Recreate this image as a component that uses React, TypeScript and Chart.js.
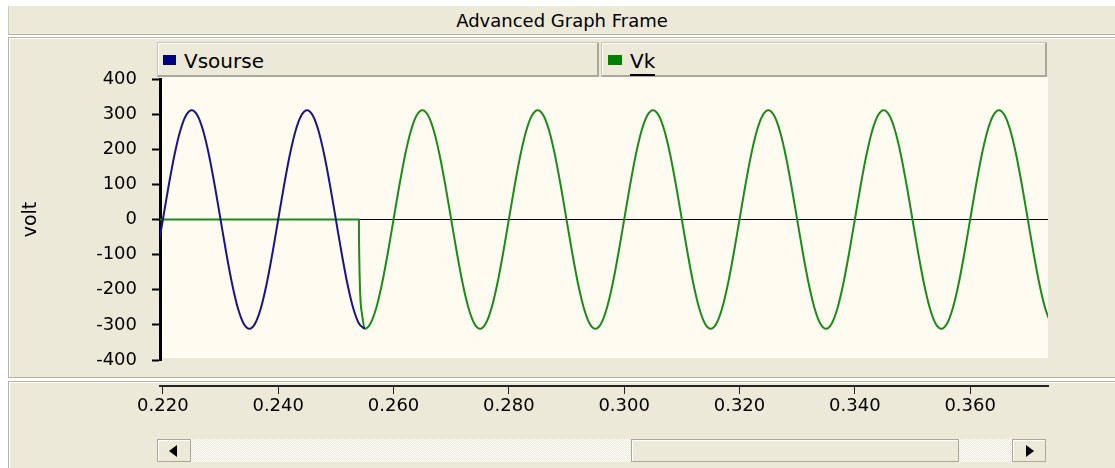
import React, { useEffect, useRef } from "react";
import { Chart, registerables } from "chart.js";

Chart.register(...registerables);

// ---- data (time grid: T_START + i * T_STEP seconds) ----
const T_START = 0.219;
const T_STEP = 0.001;

const seriesNames = ["Vsourse", "Vk"];

// Vsourse, 0.219 .. 0.255 s
const vsourseValues = [
  -96,
  0, 96, 183, 252, 296, 311, 296, 252, 183, 96,
  0, -96, -183, -252, -296, -311, -296, -252, -183, -96,
  0, 96, 183, 252, 296, 311, 296, 252, 183, 96,
  0, -96, -183, -252, -296, -311,
];

// Vk, 0.219 .. 0.374 s
const vkValues = [
  0, 0, 0, 0, 0, 0, 0, 0, 0, 0, 0, 0,
  0, 0, 0, 0, 0, 0, 0, 0, 0, 0, 0, 0,
  0, 0, 0, 0, 0, 0, 0, 0, 0, 0, 0, 0,
  -311, -296, -252, -183, -96,
  0, 96, 183, 252, 296, 311, 296, 252, 183, 96, 0, -96, -183, -252, -296, -311, -296, -252, -183, -96,
  0, 96, 183, 252, 296, 311, 296, 252, 183, 96, 0, -96, -183, -252, -296, -311, -296, -252, -183, -96,
  0, 96, 183, 252, 296, 311, 296, 252, 183, 96, 0, -96, -183, -252, -296, -311, -296, -252, -183, -96,
  0, 96, 183, 252, 296, 311, 296, 252, 183, 96, 0, -96, -183, -252, -296, -311, -296, -252, -183, -96,
  0, 96, 183, 252, 296, 311, 296, 252, 183, 96, 0, -96, -183, -252, -296, -311, -296, -252, -183, -96,
  0, 96, 183, 252, 296, 311, 296, 252, 183, 96, 0, -96, -183, -252, -296,
];

// switching transient of Vk (extra samples)
const vkSwitchTimes = [0.25401, 0.2545];
const vkSwitchValues = [-55, -265];

const xTickValues = [0.22, 0.24, 0.26, 0.28, 0.3, 0.32, 0.34, 0.36];
const X_MIN = 0.2195;
const X_MAX = 0.3735;
const Y_MIN = -400;
const Y_MAX = 400;
const Y_STEP = 100;

const lineColors = ["#16168a", "#1a8c1a"];
const legendColors = ["#000080", "#008000"];

const FONT = "'DejaVu Sans', Verdana, sans-serif";
const BEIGE = "#ECE9D8";

const tAt = (i: number) => Math.round((T_START + i * T_STEP) * 100000) / 100000;

const vsoursePoints = vsourseValues.map((y, i) => ({ x: tAt(i), y }));
const vkPoints = vkValues
  .map((y, i) => ({ x: tAt(i), y }))
  .concat(vkSwitchTimes.map((x, i) => ({ x, y: vkSwitchValues[i] })))
  .sort((a, b) => a.x - b.x);

const plotBg = {
  id: "plotBg",
  beforeDraw(chart: any) {
    const { ctx, chartArea } = chart;
    ctx.save();
    ctx.fillStyle = "#FFFBF0";
    ctx.fillRect(chartArea.left, chartArea.top - 2, chartArea.right - chartArea.left, chartArea.bottom - chartArea.top);
    ctx.restore();
  },
};

export default function App() {
  const ref = useRef<HTMLCanvasElement>(null);

  useEffect(() => {
    const chart = new Chart(ref.current as HTMLCanvasElement, {
      type: "line",
      data: {
        datasets: [
          {
            label: seriesNames[0],
            data: vsoursePoints,
            borderColor: lineColors[0],
            backgroundColor: legendColors[0],
            borderWidth: 2,
            pointRadius: 0,
            cubicInterpolationMode: "monotone",
            fill: false,
          },
          {
            label: seriesNames[1],
            data: vkPoints,
            borderColor: lineColors[1],
            backgroundColor: legendColors[1],
            borderWidth: 2,
            pointRadius: 0,
            cubicInterpolationMode: "monotone",
            fill: false,
          },
        ],
      },
      options: {
        animation: false,
        responsive: false,
        maintainAspectRatio: false,
        events: [],
        layout: { padding: { top: 79, bottom: 108, left: 0, right: 67 } },
        plugins: {
          legend: { display: false },
          tooltip: { enabled: false },
          title: { display: false },
        },
        scales: {
          x: {
            type: "linear",
            min: X_MIN,
            max: X_MAX,
            position: { y: -474 } as any,
            afterBuildTicks: (scale: any) => {
              scale.ticks = xTickValues.map((v) => ({ value: v }));
            },
            grid: {
              drawOnChartArea: false,
              drawTicks: true,
              tickLength: 7,
              tickColor: "#222",
              tickWidth: 1,
            },
            border: { display: true, color: "#222", width: 2 },
            ticks: {
              color: "#000",
              font: { family: FONT, size: 18 },
              padding: 3,
              maxRotation: 0,
              autoSkip: false,
              callback: (v: any) => Number(v).toFixed(3),
            },
          },
          y: {
            type: "linear",
            position: "left",
            min: Y_MIN,
            max: Y_MAX,
            afterFit: (scale: any) => {
              scale.width = 160;
            },
            grid: {
              color: (c: any) => (c.tick && c.tick.value === 0 ? "#000" : "rgba(0,0,0,0)"),
              lineWidth: 1,
              drawTicks: true,
              tickLength: 8,
              tickColor: "#000",
              tickWidth: 2,
            },
            border: { display: true, color: "#000", width: 3 },
            ticks: {
              stepSize: Y_STEP,
              color: "#000",
              font: { family: FONT, size: 18 },
              padding: 15,
              callback: (v: any) => String(v),
            },
            title: {
              display: true,
              text: "volt",
              color: "#000",
              font: { family: FONT, size: 19 },
              padding: { top: 20, bottom: 0 },
            },
          },
        },
      } as any,
      plugins: [plotBg],
    });
    return () => chart.destroy();
  }, []);

  const panelBase: React.CSSProperties = {
    position: "absolute",
    left: 8,
    width: 1107,
    background: BEIGE,
    boxSizing: "border-box",
    borderTop: "1px solid #B5B2A4",
    borderLeft: "1px solid #B5B2A4",
    boxShadow: "inset 1px 1px 0 #FFFFFF",
  };

  const tab = (left: number, width: number): React.CSSProperties => ({
    position: "absolute",
    left,
    top: 42,
    width,
    height: 35,
    boxSizing: "border-box",
    background: BEIGE,
    borderTop: "1px solid #C9C6B8",
    borderLeft: "1px solid #C9C6B8",
    borderRight: "2px solid #ACA899",
    borderBottom: "2px solid #ACA899",
    boxShadow: "inset 1px 1px 0 #FFFFFF",
    zIndex: 2,
  });

  const legendText: React.CSSProperties = {
    position: "absolute",
    top: 8,
    fontFamily: FONT,
    fontSize: 20,
    lineHeight: "20px",
    color: "#000",
    whiteSpace: "nowrap",
  };

  const btn = (left: number): React.CSSProperties => ({
    position: "absolute",
    left,
    top: 439,
    width: 34,
    height: 23,
    boxSizing: "border-box",
    background: BEIGE,
    border: "1px solid #ACA899",
    boxShadow: "inset 1px 1px 0 #FFFFFF",
    zIndex: 2,
  });

  return (
    <div
      style={{
        position: "absolute",
        left: 0,
        top: 0,
        width: 1115,
        height: 468,
        overflow: "hidden",
        background: "#FFFFFF",
        fontFamily: FONT,
      }}
    >
      {/* title bar */}
      <div
        style={{
          position: "absolute",
          left: 8,
          top: 6,
          width: 1107,
          height: 29,
          boxSizing: "border-box",
          background: BEIGE,
          borderLeft: "1px solid #CFCCBE",
          borderBottom: "1px solid #B5B2A4",
          display: "flex",
          alignItems: "center",
          justifyContent: "center",
          fontSize: 18,
          color: "#000",
        }}
      >
        Advanced Graph Frame
      </div>
      {/* plot panel */}
      <div style={{ ...panelBase, top: 37, height: 341, borderBottom: "1px solid #B5B2A4" }} />
      {/* x-axis panel */}
      <div style={{ ...panelBase, top: 381, height: 87 }} />

      <canvas
        ref={ref}
        width={1115}
        height={468}
        style={{ position: "absolute", left: 0, top: 0, width: 1115, height: 468, zIndex: 1 }}
      />

      {/* legend tabs */}
      <div style={tab(157, 442)}>
        <div style={{ position: "absolute", left: 5, top: 12, width: 13, height: 10, background: legendColors[0] }} />
        <div style={{ ...legendText, left: 26 }}>{seriesNames[0]}</div>
      </div>
      <div style={tab(601, 446)}>
        <div style={{ position: "absolute", left: 6, top: 12, width: 14, height: 10, background: legendColors[1] }} />
        <div style={{ ...legendText, left: 28 }}>
          <span style={{ borderBottom: "2px solid #000", paddingBottom: 1 }}>{seriesNames[1]}</span>
        </div>
      </div>

      {/* scrollbar */}
      <div
        style={{
          position: "absolute",
          left: 190,
          top: 439,
          width: 823,
          height: 23,
          background: "repeating-conic-gradient(#FFFFFF 0% 25%, #ECE9D8 0% 50%) 0 0 / 2px 2px",
          zIndex: 2,
        }}
      />
      <div
        style={{
          position: "absolute",
          left: 631,
          top: 439,
          width: 328,
          height: 23,
          boxSizing: "border-box",
          background: BEIGE,
          border: "1px solid #ACA899",
          boxShadow: "inset 1px 1px 0 #FFFFFF",
          zIndex: 3,
        }}
      />
      <div style={btn(157)}>
        <div
          style={{
            position: "absolute",
            left: 11,
            top: 5,
            width: 0,
            height: 0,
            borderTop: "6px solid transparent",
            borderBottom: "6px solid transparent",
            borderRight: "8px solid #000",
          }}
        />
      </div>
      <div style={btn(1012)}>
        <div
          style={{
            position: "absolute",
            left: 13,
            top: 5,
            width: 0,
            height: 0,
            borderTop: "6px solid transparent",
            borderBottom: "6px solid transparent",
            borderLeft: "8px solid #000",
          }}
        />
      </div>
    </div>
  );
}
